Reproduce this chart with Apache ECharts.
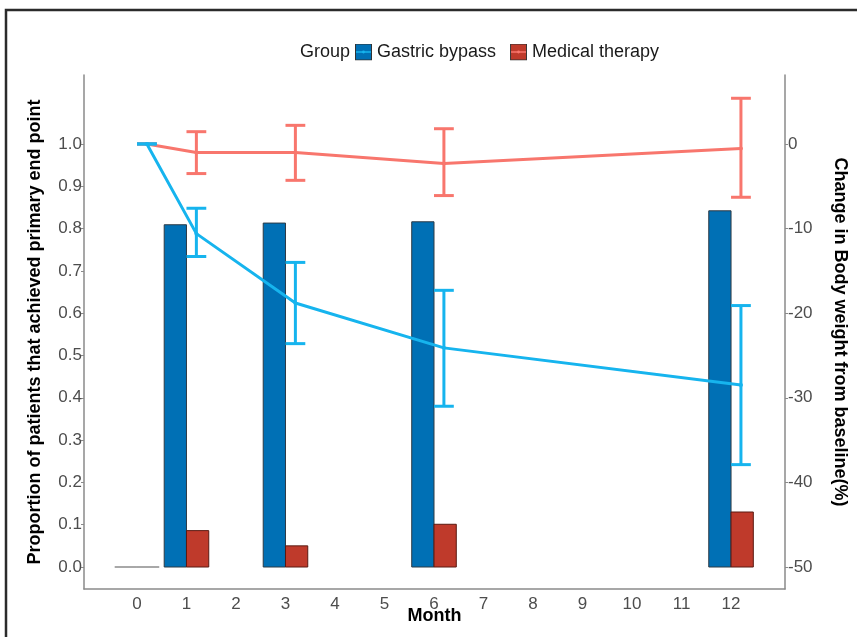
<!DOCTYPE html>
<html>
<head>
<meta charset="utf-8">
<script src="https://cdn.jsdelivr.net/npm/echarts@6/dist/echarts.min.js"></script>
<style>
  html, body { margin: 0; padding: 0; background: #fff; }
  #chart { width: 857px; height: 637px; }
</style>
</head>
<body>
<div id="chart"></div>
<script>
// ---- data ----
const months = [0, 1, 3, 6, 12];
const monthTicks = [0, 1, 2, 3, 4, 5, 6, 7, 8, 9, 10, 11, 12];
const propTicks = [0, 0.1, 0.2, 0.3, 0.4, 0.5, 0.6, 0.7, 0.8, 0.9, 1.0];
const weightTicks = [-50, -40, -30, -20, -10, 0];

const bypassProportion  = [0, 0.809, 0.813, 0.816, 0.842];
const medicalProportion = [0, 0.086, 0.050, 0.101, 0.130];

const bypassWeight  = [0, -10.6, -18.8, -24.1, -28.5];
const bypassLow     = [0, -13.3, -23.6, -31.0, -37.9];
const bypassHigh    = [0, -7.6, -14.0, -17.3, -19.1];

const medicalWeight = [0, -1.0, -1.0, -2.3, -0.55];
const medicalLow    = [0, -3.5, -4.3, -6.1, -6.3];
const medicalHigh   = [0, 1.45, 2.2, 1.8, 5.4];

// ---- styling / layout constants ----
const BAR_HALF = 0.45;      // dodge width in months
const LINE_SHIFT = 0.2;     // line/error-bar horizontal offset in months
const CAP_HALF = 0.2;
const COL_BYPASS_BAR = '#0070b5';
const COL_MED_BAR = '#bf3a2b';
const COL_BYPASS_LINE = '#16b4ee';
const COL_MED_LINE = '#f8766d';
const FONT = 'Liberation Sans, Arial, sans-serif';

function legendIcon(fill, lineCol) {
  const svg = '<svg xmlns="http://www.w3.org/2000/svg" width="17" height="17" viewBox="0 0 17 17">' +
    '<rect x="0.5" y="0.5" width="16" height="16" fill="' + fill + '" stroke="#333" stroke-width="1"/>' +
    '<line x1="1" y1="8.5" x2="16" y2="8.5" stroke="' + lineCol + '" stroke-width="1.6"/>' +
    '<circle cx="8.5" cy="8.5" r="1.4" fill="' + lineCol + '"/></svg>';
  return 'image://data:image/svg+xml;charset=utf-8,' + encodeURIComponent(svg);
}

function barRender(startOff, endOff, fill, stroke) {
  return function (params, api) {
    const m = api.value(0), v = api.value(1);
    const p0 = api.coord([m + startOff, v]);
    const p1 = api.coord([m + endOff, 0]);
    const h = p1[1] - p0[1];
    if (Math.abs(h) < 0.5) {
      return { type: 'line', shape: { x1: p0[0], y1: p1[1], x2: p1[0], y2: p1[1] },
               style: { stroke: '#a8a8a8', lineWidth: 2 } };
    }
    return { type: 'rect',
      shape: { x: p0[0], y: p0[1], width: p1[0] - p0[0], height: h },
      style: { fill: fill, stroke: stroke, lineWidth: 1 } };
  };
}

function errRender(color) {
  return function (params, api) {
    const x = api.value(0), lo = api.value(1), hi = api.value(2);
    const a = api.coord([x, lo]), b = api.coord([x, hi]);
    const l1 = api.coord([x - CAP_HALF, lo]), r1 = api.coord([x + CAP_HALF, lo]);
    const l2 = api.coord([x - CAP_HALF, hi]), r2 = api.coord([x + CAP_HALF, hi]);
    const st = { stroke: color, lineWidth: 3 };
    return { type: 'group', children: [
      { type: 'line', shape: { x1: a[0], y1: a[1], x2: b[0], y2: b[1] }, style: st },
      { type: 'line', shape: { x1: l1[0], y1: l1[1], x2: r1[0], y2: r1[1] }, style: st },
      { type: 'line', shape: { x1: l2[0], y1: l2[1], x2: r2[0], y2: r2[1] }, style: st }
    ]};
  };
}

const chart = echarts.init(document.getElementById('chart'), null, { renderer: 'canvas' });

const axisLineStyle = { color: '#8a8a8a', width: 1.5 };
const labelStyle = { color: '#4d4d4d', fontSize: 17, fontFamily: FONT };
const nameStyle = { color: '#000', fontSize: 18, fontWeight: 'bold', fontFamily: FONT };

const option = {
  animation: false,
  backgroundColor: '#fff',
  title: {
    text: 'Group', left: 300, top: 43, padding: 0,
    textStyle: { color: '#1a1a1a', fontSize: 18, fontWeight: 'normal', fontFamily: FONT }
  },
  legend: {
    left: 355, top: 43, padding: 0, itemWidth: 17, itemHeight: 17, itemGap: 14,
    textStyle: { color: '#1a1a1a', fontSize: 18, fontFamily: FONT },
    data: [
      { name: 'Gastric bypass', icon: legendIcon(COL_BYPASS_BAR, COL_BYPASS_LINE) },
      { name: 'Medical therapy', icon: legendIcon(COL_MED_BAR, COL_MED_LINE) }
    ]
  },
  graphic: [{
    type: 'rect', silent: true, z: 100,
    shape: { x: 6, y: 10, width: 900, height: 700 },
    style: { fill: 'none', stroke: '#2b2b2b', lineWidth: 2.5 }
  }],
  grid: { left: 84, right: 71, top: 75, bottom: 48, containLabel: false },
  xAxis: {
    type: 'value', min: -1.07, max: 13.09,
    name: 'Month', nameLocation: 'middle', nameGap: 18, nameMoveOverlap: false, nameTextStyle: nameStyle,
    axisLine: { show: true, onZero: false, lineStyle: axisLineStyle },
    axisTick: { show: false, customValues: monthTicks },
    axisLabel: Object.assign({ customValues: monthTicks, margin: 7 }, labelStyle),
    splitLine: { show: false }
  },
  yAxis: [{
    type: 'value', min: -0.052, max: 1.163, position: 'left',
    name: 'Proportion of patients that achieved primary end point',
    nameLocation: 'middle', nameGap: 40, nameMoveOverlap: false, nameTextStyle: nameStyle,
    axisLine: { show: true, onZero: false, lineStyle: axisLineStyle },
    axisTick: { show: true, length: 3, customValues: propTicks, lineStyle: { color: '#8a8a8a' } },
    axisLabel: Object.assign({ customValues: propTicks, margin: 2, formatter: v => v.toFixed(1) }, labelStyle),
    splitLine: { show: false }
  }, {
    type: 'value', min: -52.6, max: 8.15, position: 'right',
    name: 'Change in Body weight from baseline(%)',
    nameLocation: 'middle', nameGap: 46, nameRotate: -90, nameMoveOverlap: false, nameTextStyle: nameStyle,
    axisLine: { show: true, onZero: false, lineStyle: axisLineStyle },
    axisTick: { show: true, length: 3, customValues: weightTicks, lineStyle: { color: '#8a8a8a' } },
    axisLabel: Object.assign({ customValues: weightTicks, margin: 3 }, labelStyle),
    splitLine: { show: false }
  }],
  series: [
    {
      name: 'Gastric bypass', type: 'custom', xAxisIndex: 0, yAxisIndex: 0, z: 2,
      renderItem: barRender(-BAR_HALF, 0, COL_BYPASS_BAR, '#2d3a45'),
      data: months.map((m, i) => [m, bypassProportion[i]])
    },
    {
      name: 'Medical therapy', type: 'custom', xAxisIndex: 0, yAxisIndex: 0, z: 2,
      renderItem: barRender(0, BAR_HALF, COL_MED_BAR, '#5a1a12'),
      data: months.map((m, i) => [m, medicalProportion[i]])
    },
    {
      name: 'Medical therapy error', type: 'custom', xAxisIndex: 0, yAxisIndex: 1, z: 3,
      renderItem: errRender(COL_MED_LINE),
      data: months.map((m, i) => [m + LINE_SHIFT, medicalLow[i], medicalHigh[i]])
    },
    {
      name: 'Medical therapy weight', type: 'line', xAxisIndex: 0, yAxisIndex: 1, z: 4,
      symbol: 'circle', symbolSize: 4, showSymbol: true,
      lineStyle: { color: COL_MED_LINE, width: 3 }, itemStyle: { color: COL_MED_LINE },
      data: months.map((m, i) => [m + LINE_SHIFT, medicalWeight[i]])
    },
    {
      name: 'Gastric bypass error', type: 'custom', xAxisIndex: 0, yAxisIndex: 1, z: 5,
      renderItem: errRender(COL_BYPASS_LINE),
      data: months.map((m, i) => [m + LINE_SHIFT, bypassLow[i], bypassHigh[i]])
    },
    {
      name: 'Gastric bypass weight', type: 'line', xAxisIndex: 0, yAxisIndex: 1, z: 6,
      symbol: 'circle', symbolSize: 4, showSymbol: true,
      lineStyle: { color: COL_BYPASS_LINE, width: 3 }, itemStyle: { color: COL_BYPASS_LINE },
      data: months.map((m, i) => [m + LINE_SHIFT, bypassWeight[i]])
    }
  ]
};
chart.setOption(option);
</script>
</body>
</html>
